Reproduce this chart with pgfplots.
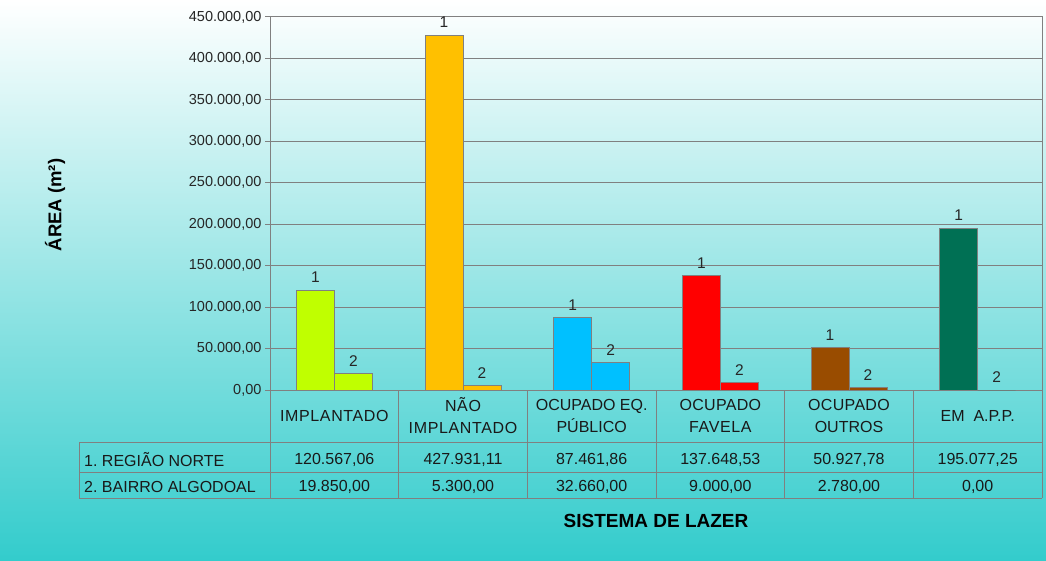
\documentclass[border=0pt]{standalone}
\usepackage{pgfplots}
\pgfplotsset{compat=1.18}
\usepackage{fontspec}
\setmainfont{Liberation Sans}
\definecolor{bgbot}{RGB}{51,204,204}
\definecolor{cA}{RGB}{192,255,0}
\definecolor{cB}{RGB}{255,192,0}
\definecolor{cC}{RGB}{0,192,255}
\definecolor{cD}{RGB}{255,0,0}
\definecolor{cE}{RGB}{153,76,0}
\definecolor{cF}{RGB}{0,112,84}
\definecolor{lg}{RGB}{128,128,128}
\begin{document}
\frenchspacing
\begin{tikzpicture}
\useasboundingbox (0pt,0pt) rectangle (1046pt,560pt);
\shade[top color=white,bottom color=bgbot] (0pt,0pt) rectangle (1046pt,560pt);
\begin{axis}[
  scale only axis, width=772pt, height=373pt,
  anchor=south west, at={(270pt,170pt)},
  xmin=-0.5, xmax=5.5, ymin=0, ymax=450000,
  xtick=\empty,
  ytick={0,50000,100000,150000,200000,250000,300000,350000,400000,450000},
  scaled y ticks=false,
  yticklabel={\pgfmathprintnumber[fixed,fixed zerofill,precision=2,use comma,1000 sep={.},assume math mode=true]{\tick}},
  ticklabel style={font=\fontsize{14.5}{16}\selectfont, text=black!85},
  ytick pos=left, tick align=outside, major tick length=5pt,
  tick style={lg, line width=1pt},
  axis line style={lg, line width=1pt},
  ymajorgrids, grid style={lg, line width=1pt},
  clip=false,
  every node near coord/.append style={font=\fontsize{15.5}{16}\selectfont, text=black!85, anchor=south, inner sep=0pt, yshift=7pt},
  one/.style={ybar, bar shift=-19pt, draw=lg, line width=1pt, nodes near coords={1}, every node near coord/.append style={xshift=-19pt}},
  two/.style={ybar, bar shift=19pt, draw=lg, line width=1pt, nodes near coords={2}, every node near coord/.append style={xshift=19pt}},
  /pgf/bar width=38pt,
]
\addplot[one, fill=cA] coordinates {(0,120567.06)};
\addplot[two, fill=cA] coordinates {(0,19850.00)};
\addplot[one, fill=cB] coordinates {(1,427931.11)};
\addplot[two, fill=cB] coordinates {(1,5300.00)};
\addplot[one, fill=cC] coordinates {(2,87461.86)};
\addplot[two, fill=cC] coordinates {(2,32660.00)};
\addplot[one, fill=cD] coordinates {(3,137648.53)};
\addplot[two, fill=cD] coordinates {(3,9000.00)};
\addplot[one, fill=cE] coordinates {(4,50927.78)};
\addplot[two, fill=cE] coordinates {(4,2780.00)};
\addplot[one, fill=cF] coordinates {(5,195077.25)};
\addplot[two, fill=cF, draw=none] coordinates {(5,0)};
\end{axis}
% data table
\begin{scope}[lg, line width=1pt]
\foreach \i in {0,...,6} {
  \draw ({270pt+\i*128.667pt},170pt) -- ({270pt+\i*128.667pt},62pt);
}
\draw (79pt,118pt) -- (1042pt,118pt);
\draw (79pt,88pt) -- (1042pt,88pt);
\draw (79pt,62pt) -- (1042pt,62pt);
\draw (79pt,118pt) -- (79pt,62pt);
\end{scope}
\begin{scope}[every node/.style={font=\fontsize{16}{22}\selectfont, text=black!90, align=center, inner sep=0pt}]
\node at (334.33pt,144pt) {\addfontfeatures{LetterSpace=4}IMPLANTADO};
\node at (463pt,144pt) {\addfontfeatures{LetterSpace=4}NÃO\\\addfontfeatures{LetterSpace=4}IMPLANTADO};
\node at (591.67pt,144pt) {OCUPADO EQ.\\PÚBLICO};
\node at (720.33pt,144pt) {\addfontfeatures{LetterSpace=2}OCUPADO\\\addfontfeatures{LetterSpace=4}FAVELA};
\node at (849pt,144pt) {\addfontfeatures{LetterSpace=2}OCUPADO\\OUTROS};
\node at (977.67pt,144pt) {EM\ \ A.P.P.};
\node at (334.33pt,100pt) {120.567,06};
\node at (463pt,100pt) {427.931,11};
\node at (591.67pt,100pt) {87.461,86};
\node at (720.33pt,100pt) {137.648,53};
\node at (849pt,100pt) {50.927,78};
\node at (977.67pt,100pt) {195.077,25};
\node at (334.33pt,73pt) {19.850,00};
\node at (463pt,73pt) {5.300,00};
\node at (591.67pt,73pt) {32.660,00};
\node at (720.33pt,73pt) {9.000,00};
\node at (849pt,73pt) {2.780,00};
\node at (977.67pt,73pt) {0,00};
\node[anchor=west] at (84pt,100pt) {1. REGIÃO NORTE};
\node[anchor=west] at (84pt,73pt) {2. BAIRRO ALGODOAL};
\end{scope}
\node[font=\fontsize{19}{20}\selectfont\bfseries] at (656pt,39pt) {SISTEMA DE LAZER};
\node[font=\fontsize{18.5}{20}\selectfont\bfseries, rotate=90] at (55pt,355pt) {ÁREA (m²)};
\end{tikzpicture}
\end{document}
